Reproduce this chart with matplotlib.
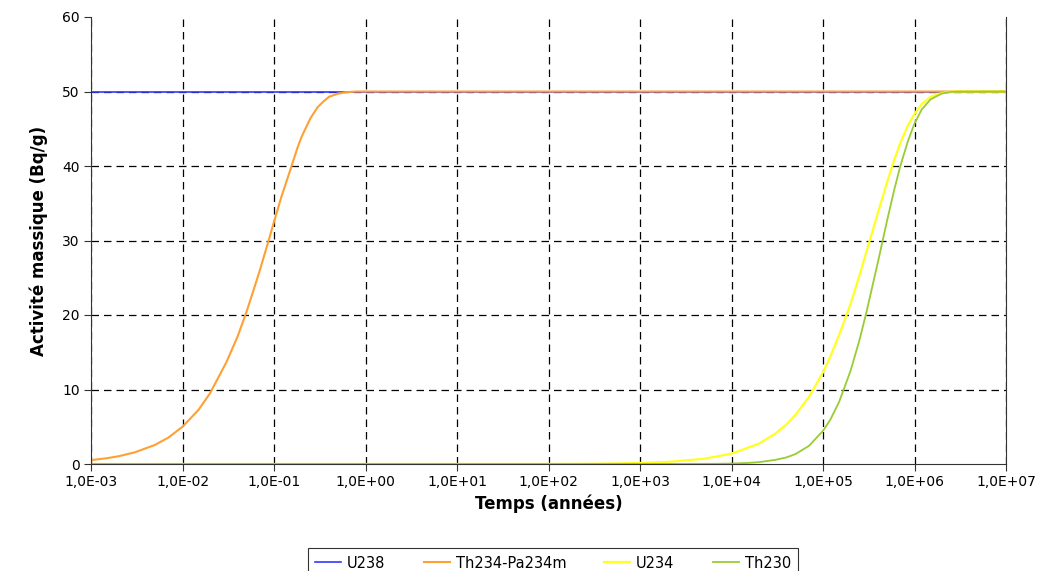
import matplotlib
matplotlib.use("Agg")
import matplotlib.pyplot as plt
from matplotlib.ticker import FixedLocator, FuncFormatter, NullLocator

# temps (années) et activités (Bq/g)
t_u238 = [1e-3, 1e7]
a_u238 = [50, 50]

t_th234 = [1e-3, 1.5e-3, 2e-3, 3e-3, 5e-3, 7e-3, 1e-2, 1.5e-2, 2e-2, 3e-2, 4e-2,
           5e-2, 6e-2, 7e-2, 8.5e-2, 0.1, 0.12, 0.15, 0.18, 0.2, 0.25, 0.3, 0.35,
           0.4, 0.5, 0.6, 0.8, 1e7]
a_th234 = [0.52, 0.78, 1.04, 1.56, 2.56, 3.54, 5.0, 7.28, 9.5, 13.6, 17.1,
           20.4, 23.4, 26.0, 29.5, 32.5, 35.8, 39.4, 42.4, 43.9, 46.4, 47.9, 48.7,
           49.3, 49.7, 49.9, 50.0, 50.0]

t_u234 = [1e-3, 1e2, 3e2, 5e2, 1e3, 2e3, 5e3, 1e4, 2e4, 3e4, 4e4, 5e4, 7e4, 1e5,
          1.2e5, 1.5e5, 2e5, 2.5e5, 3e5, 4e5, 5e5, 6e5, 7e5, 8.5e5, 1e6, 1.2e6,
          1.5e6, 2e6, 2.5e6, 3e6, 1e7]
a_u234 = [0.0, 0.014, 0.042, 0.07, 0.14, 0.28, 0.70, 1.39, 2.74, 4.06, 5.33, 6.6,
          8.97, 12.3, 14.4, 17.3, 21.5, 25.3, 28.6, 33.8, 37.8, 40.8, 43.1, 45.5,
          47.0, 48.3, 49.3, 49.8, 49.96, 50.0, 50.0]

t_th230 = [1e-3, 1e3, 7e3, 1e4, 1.5e4, 2e4, 3e4, 4e4, 5e4, 7e4, 1e5, 1.2e5, 1.5e5,
           2e5, 2.5e5, 3e5, 4e5, 5e5, 6e5, 7e5, 8.5e5, 1e6, 1.2e6, 1.5e6, 2e6,
           2.5e6, 3e6, 1e7]
a_th230 = [0.0, 0.0, 0.03, 0.06, 0.14, 0.25, 0.55, 0.89, 1.33, 2.42, 4.45, 5.93,
           8.33, 12.5, 16.6, 20.5, 27.2, 32.6, 36.8, 40.0, 43.4, 45.7, 47.6,
           48.95, 49.74, 49.94, 49.98, 50.0]

xticks = [1e-3, 1e-2, 1e-1, 1e0, 1e1, 1e2, 1e3, 1e4, 1e5, 1e6, 1e7]

fig = plt.figure(figsize=(10.43, 5.71), dpi=100)
ax = fig.add_axes([91/1043, 1-464/571, (1006-91)/1043, (464-17)/571])
ax.set_axisbelow(True)

ax.plot(t_u238, a_u238, color="#3636ff", lw=1.2, label="U238")
ax.plot(t_th234, a_th234, color="#ffa033", lw=1.5, label="Th234-Pa234m")
ax.plot(t_u234, a_u234, color="#ffff22", lw=1.6, label="U234")
ax.plot(t_th230, a_th230, color="#99cc33", lw=1.3, label="Th230")

ax.set_xscale("log")
ax.set_xlim(1e-3, 1e7)
ax.set_ylim(0, 60)
ax.xaxis.set_major_locator(FixedLocator(xticks))
ax.xaxis.set_minor_locator(NullLocator())
ax.xaxis.set_major_formatter(FuncFormatter(lambda v, p: ("%.1E" % v).replace(".", ",")))
ax.set_yticks(range(0, 61, 10))

ax.grid(True, color="black", linestyle=(0, (6, 4)), lw=0.9)
ax.yaxis.get_gridlines()[-1].set_visible(False)
ax.yaxis.get_gridlines()[0].set_visible(False)
ax.spines["top"].set_visible(False)
for s in ["left", "bottom", "right"]:
    ax.spines[s].set_color("#333333")
ax.tick_params(axis="both", direction="out", length=5, color="#333333",
               labelsize=10, pad=3)

ax.set_xlabel("Temps (années)", fontsize=12, fontweight="bold", labelpad=4)
ax.set_ylabel("Activité massique (Bq/g)", fontsize=12, fontweight="bold", labelpad=10)

leg = fig.legend(loc="upper center", bbox_to_anchor=(553/1043, 1-541/571), ncol=4,
                 frameon=True, fancybox=False, edgecolor="black", fontsize=10.5,
                 handlelength=1.8, handletextpad=0.4, columnspacing=2.6,
                 borderpad=0.5)
leg.get_frame().set_linewidth(0.8)

fig.savefig("out.png", dpi=100)
